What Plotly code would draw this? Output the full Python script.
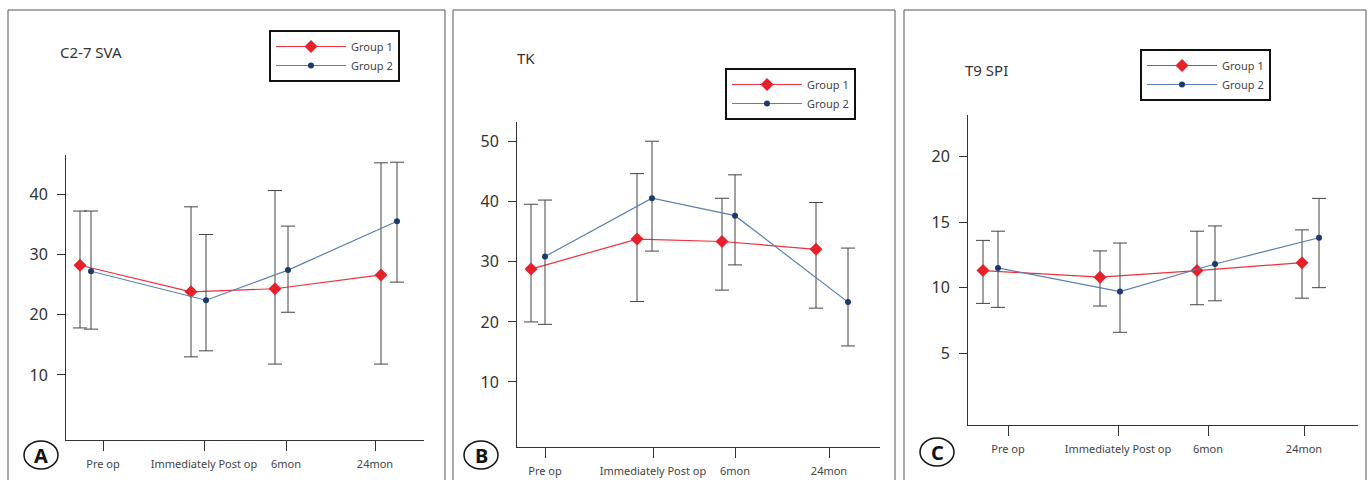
import plotly.graph_objects as go

W, H = 1369, 480
categories = ["Pre op", "Immediately Post op", "6mon", "24mon"]
titles = ["C2-7 SVA", "TK", "T9 SPI"]
letters = ["A", "B", "C"]

# panel A
a_g1 = [28.2, 23.8, 24.3, 26.6]; a_g1_hi = [37.2, 37.9, 40.6, 45.2]; a_g1_lo = [17.8, 13.0, 11.8, 11.8]
a_g2 = [27.2, 22.4, 27.4, 35.5]; a_g2_hi = [37.2, 33.3, 34.7, 45.3]; a_g2_lo = [17.6, 14.0, 20.4, 25.4]
# panel B
b_g1 = [28.8, 33.8, 33.4, 32.1]; b_g1_hi = [39.6, 44.7, 40.6, 39.9]; b_g1_lo = [20.0, 23.4, 25.3, 22.3]
b_g2 = [30.9, 40.6, 37.7, 23.3]; b_g2_hi = [40.3, 50.1, 44.5, 32.3]; b_g2_lo = [19.6, 31.8, 29.5, 16.0]
# panel C
c_g1 = [11.3, 10.8, 11.3, 11.9]; c_g1_hi = [13.6, 12.8, 14.3, 14.4]; c_g1_lo = [8.8, 8.6, 8.7, 9.2]
c_g2 = [11.5, 9.7, 11.8, 13.8]; c_g2_hi = [14.3, 13.4, 14.7, 16.8]; c_g2_lo = [8.5, 6.6, 9.0, 10.0]

panels = [
    dict(frame=(8, 445), ax=(66, 424), ay=(155, 440), yr=(-0.8, 46.5), yt=[10, 20, 30, 40],
         ticks=[103, 204, 286, 375], g1x=[80, 191, 275, 381], g2x=[91, 206, 288, 397],
         leg=(269, 428, 30, 98), title=(58, 52), circ=(41, 455),
         d=(a_g1, a_g1_hi, a_g1_lo, a_g2, a_g2_hi, a_g2_lo)),
    dict(frame=(453, 895), ax=(517, 880), ay=(122, 447), yr=(-0.83, 53.3), yt=[10, 20, 30, 40, 50],
         ticks=[545, 653, 735, 829], g1x=[531, 637, 722, 816], g2x=[545, 652, 735, 848],
         leg=(725, 883, 68, 133), title=(515, 58), circ=(481, 455),
         d=(b_g1, b_g1_hi, b_g1_lo, b_g2, b_g2_hi, b_g2_lo)),
    dict(frame=(904, 1366), ax=(968, 1358), ay=(115, 425), yr=(-0.46, 23.15), yt=[5, 10, 15, 20],
         ticks=[1008, 1118, 1208, 1304], g1x=[983, 1100, 1197, 1302], g2x=[998, 1120, 1215, 1319],
         leg=(1140, 1313, 49, 122), title=(963, 70), circ=(937, 452),
         d=(c_g1, c_g1_hi, c_g1_lo, c_g2, c_g2_hi, c_g2_lo)),
]

px = lambda x: x / W
py = lambda y: 1 - y / H

fig = go.Figure()
shapes, annotations = [], []
RED, BLUE, ERR = "#f0303a", "#5a7fb0", "#444444"
for i, p in enumerate(panels):
    n = "" if i == 0 else str(i + 1)
    g1, g1h, g1l, g2, g2h, g2l = p["d"]
    x0 = p["ax"][0]
    leg = "legend" if i == 0 else f"legend{i+1}"
    fig.add_trace(go.Scatter(
        x=[v - x0 for v in p["g1x"]], y=g1, mode="lines+markers", name="Group 1",
        line=dict(color=RED, width=1.2), marker=dict(symbol="diamond", size=10, color="#e8202a"),
        error_y=dict(type="data", symmetric=False, array=[h - m for h, m in zip(g1h, g1)],
                     arrayminus=[m - l for m, l in zip(g1, g1l)], color=ERR, thickness=1, width=7),
        xaxis="x" + n, yaxis="y" + n, legend=leg))
    fig.add_trace(go.Scatter(
        x=[v - x0 for v in p["g2x"]], y=g2, mode="lines+markers", name="Group 2",
        line=dict(color=BLUE, width=1.2), marker=dict(symbol="circle", size=6, color="#1a3a6e"),
        error_y=dict(type="data", symmetric=False, array=[h - m for h, m in zip(g2h, g2)],
                     arrayminus=[m - l for m, l in zip(g2, g2l)], color=ERR, thickness=1, width=7),
        xaxis="x" + n, yaxis="y" + n, legend=leg))
    common = dict(showgrid=False, zeroline=False, showline=True, linecolor="#333", linewidth=1,
                  ticks="outside", tickcolor="#333")
    fig.update_layout(**{
        "xaxis" + n: dict(domain=[px(p["ax"][0]), px(p["ax"][1])], range=[0, p["ax"][1] - x0],
                          anchor="y" + n, tickvals=[t - x0 for t in p["ticks"]], ticktext=categories,
                          ticklen=10, ticklabelstandoff=4,
                          tickfont=dict(size=11, color="#444"), **common),
        "yaxis" + n: dict(domain=[py(p["ay"][1]), py(p["ay"][0])], range=list(p["yr"]),
                          anchor="x" + n, tickvals=p["yt"], ticklen=8, ticklabelstandoff=6,
                          tickfont=dict(size=16, color="#333"), **common),
    })
    l = p["leg"]
    fig.update_layout(**{leg: dict(x=px(l[0]), y=py(l[2]), xanchor="left", yanchor="top",
                                   bordercolor="#111", borderwidth=2, bgcolor="white",
                                   font=dict(size=11, color="#444"), tracegroupgap=22,
                                   itemwidth=70)})
    shapes.append(dict(type="rect", xref="paper", yref="paper", x0=px(p["frame"][0]), x1=px(p["frame"][1]),
                       y0=-0.05, y1=py(10), line=dict(color="#555", width=1)))
    cx, cy = p["circ"]
    shapes.append(dict(type="circle", xref="paper", yref="paper", x0=px(cx - 17), x1=px(cx + 17),
                       y0=py(cy + 14), y1=py(cy - 14), line=dict(color="#111", width=1.5)))
    annotations.append(dict(text="<b>" + letters[i] + "</b>", x=px(cx), y=py(cy), xref="paper", yref="paper",
                            xanchor="center", yanchor="middle",
                            showarrow=False, font=dict(size=20, color="#111")))
    annotations.append(dict(text=titles[i], x=px(p["title"][0]), y=py(p["title"][1]), xref="paper",
                            yref="paper", xanchor="left", yanchor="middle", showarrow=False,
                            font=dict(size=15, color="#333")))

fig.update_layout(width=W, height=H, margin=dict(l=0, r=0, t=0, b=0), plot_bgcolor="white",
                  paper_bgcolor="white", font=dict(family="Noto Sans"), shapes=shapes,
                  annotations=annotations)
fig.write_html("out.html", config={"displayModeBar": False})
with open("out.html", encoding="utf-8") as f:
    html = f.read()
html = html.replace("<body>", "<body style=\"margin:0;overflow:hidden\">", 1)
with open("out.html", "w", encoding="utf-8") as f:
    f.write(html)
